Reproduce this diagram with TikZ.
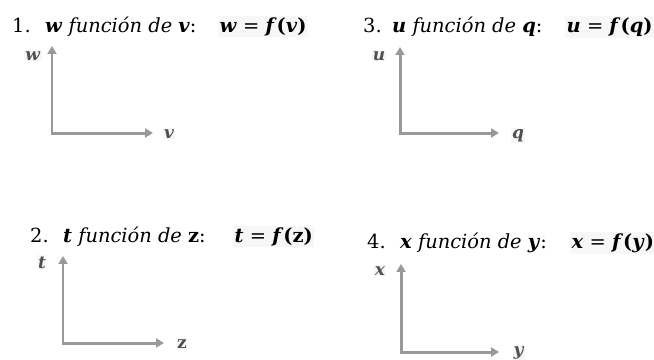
\documentclass[tikz,border=0pt]{standalone}
\usepackage{fontspec}
\setmainfont{DejaVu Serif}
\usetikzlibrary{arrows.meta}
\definecolor{axisgray}{HTML}{999999}
\definecolor{labgray}{HTML}{505050}
\definecolor{shade}{HTML}{F7F7F7}
\newcommand{\bi}[1]{\textbf{\textit{#1}}}
\tikzset{
  numtxt/.style={anchor=base west,inner sep=0pt,font=\fontsize{19.5}{23}\selectfont},
  phrase/.style={anchor=base west,inner sep=0pt,font=\fontsize{19.5}{23}\selectfont},
  formula/.style={anchor=base west,inner sep=1.5pt,fill=shade,font=\fontsize{19.5}{23}\selectfont},
  axlab/.style={anchor=base,inner sep=1pt,fill=shade,text=labgray,font=\fontsize{17}{20}\selectfont},
  axisline/.style={draw=axisgray,line width=3pt,{Triangle[length=8pt,width=9pt]}-{Triangle[length=8pt,width=9pt]}}
}
\begin{document}
\begin{tikzpicture}[x=1bp,y=-1bp]
\useasboundingbox (0,0) rectangle (654,359);
% panel 1
\node[numtxt] (n1) at (12,32) {1.};
\node[phrase] (p1) at (45,32) {\bi{w} \textit{función de} \bi{v}:};
\node[formula] (f1) at (218,32) {\bi{w} = \bi{f}\textbf{(}\bi{v}\textbf{)}};
\coordinate (t1) at (52,46);
\coordinate (r1) at (153,133);
\draw[axisline] (t1) |- (r1);
\node[axlab] (ly1) at (33,60) {\bi{w}};
\node[axlab] (lx1) at (169,138) {\bi{v}};
% panel 3
\node[numtxt] (n3) at (363,32) {3.};
\node[phrase] (p3) at (392,32) {\bi{u} \textit{función de} \bi{q}:};
\node[formula] (f3) at (565,32) {\bi{u} = \bi{f}\textbf{(}\bi{q}\textbf{)}};
\coordinate (t3) at (400,47);
\coordinate (r3) at (499,133);
\draw[axisline] (t3) |- (r3);
\node[axlab] (ly3) at (379,60) {\bi{u}};
\node[axlab] (lx3) at (518,138) {\bi{q}};
% panel 2
\node[numtxt] (n2) at (30,242) {2.};
\node[phrase] (p2) at (63,242) {\bi{t} \textit{función de} \textbf{z}:};
\node[formula] (f2) at (233,242) {\bi{t} = \bi{f}\textbf{(z)}};
\coordinate (t2) at (63,256);
\coordinate (r2) at (164,343);
\draw[axisline] (t2) |- (r2);
\node[axlab] (ly2) at (42,268) {\bi{t}};
\node[axlab] (lx2) at (182,348) {\textbf{z}};
% panel 4
\node[numtxt] (n4) at (367,248) {4.};
\node[phrase] (p4) at (400,248) {\bi{x} \textit{función de} \bi{y}:};
\node[formula] (f4) at (570,248) {\bi{x} = \bi{f}\textbf{(}\bi{y}\textbf{)}};
\coordinate (t4) at (401,264);
\coordinate (r4) at (499,352);
\draw[axisline] (t4) |- (r4);
\node[axlab] (ly4) at (380,275) {\bi{x}};
\node[axlab] (lx4) at (519,355) {\bi{y}};
\end{tikzpicture}
\end{document}
